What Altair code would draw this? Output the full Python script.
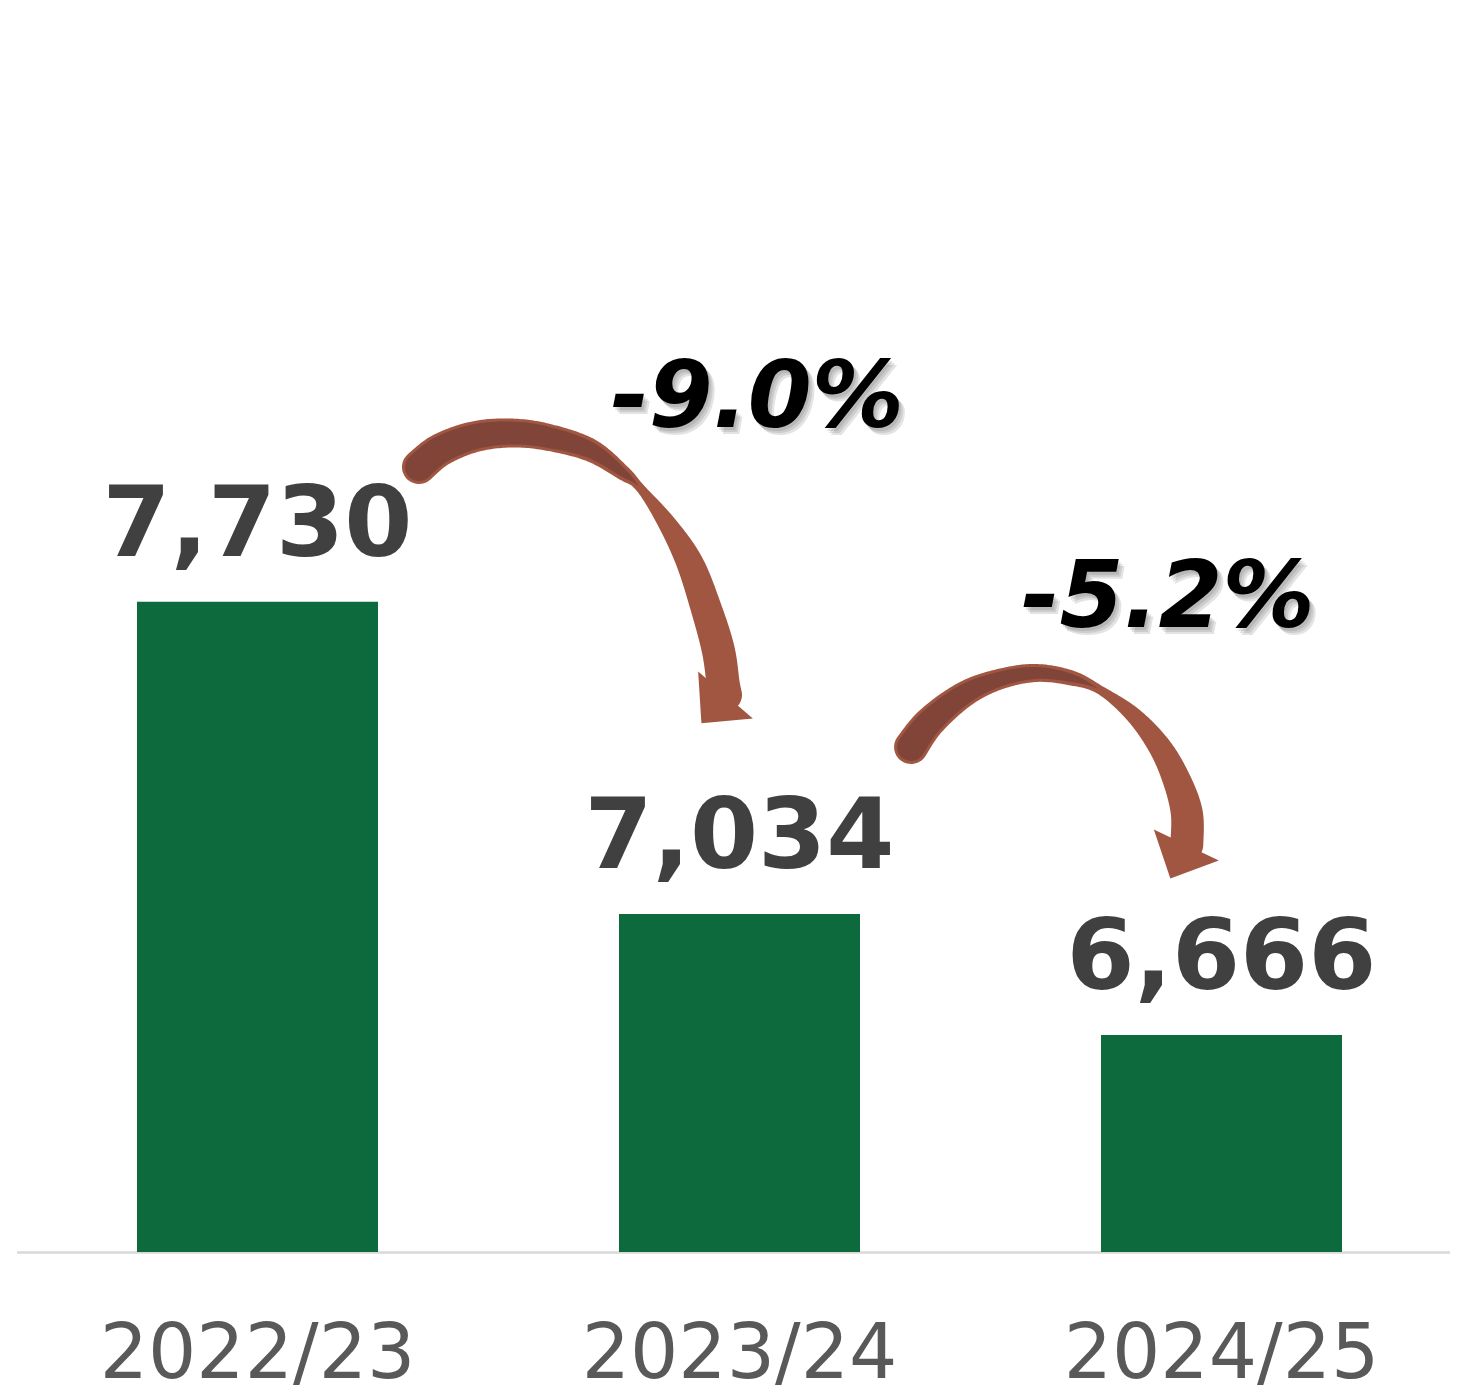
import altair as alt
import numpy as np
import pandas as pd

# ---------------- data ----------------
years = ["2022/23", "2023/24", "2024/25"]
values = [7730, 7034, 6666]
changes = ["-9.0%", "-5.2%"]

# ---------------- layout / style ----------------
W, H = 1433, 1244
PAD_INNER, PAD_OUTER, ALIGN = 0.5, 0.2365, 0.5285
Y_DOMAIN = [5661, 8604]
Y_EXP = 5.1

BAR_COLOR = "#0d6a3d"
VALUE_COLOR = "#404040"
AXIS_COLOR = "#595959"
ARROW_LIGHT = "#a15642"
ARROW_DARK = "#804538"
FONT = "DejaVu Sans"

# annotation frame: x in bar-index units (0 = first bar centre), y = rise above baseline (px)
step = W / (len(years) - PAD_INNER + 2 * PAD_OUTER)
offset = (W - step * (len(years) - PAD_INNER)) * ALIGN
center0 = offset + step * (1 - PAD_INNER) / 2
IDX_DOMAIN = [-center0 / step, (W - center0) / step]

# arrow centre-line waypoints: (index, rise, width, inner dark width)
ARROW_PATHS = [
    [(0.335, 785, 34, 28), (0.379, 802, 33, 27), (0.448, 815, 31, 25), (0.524, 819, 29, 23),
     (0.600, 815, 27, 21), (0.690, 802, 23, 16), (0.759, 779, 15, 8), (0.794, 764, 9, 0),
     (0.849, 729, 18, 0), (0.897, 689, 27, 0), (0.932, 642, 31, 0), (0.956, 602, 33, 0),
     (0.966, 569, 33, 0), (0.971, 557, 33, 0)],
    [(1.356, 505, 34, 28), (1.395, 530, 31, 25), (1.464, 557, 26, 20), (1.534, 572, 21, 15),
     (1.613, 579, 18, 12), (1.689, 574, 15, 8), (1.748, 562, 9, 0), (1.817, 537, 16, 0),
     (1.872, 505, 23, 0), (1.907, 472, 28, 0), (1.928, 439, 32, 0), (1.928, 407, 33, 0)],
]
ARROW_HEADS = [(0.971, 557, 40.5), (1.927, 407, 25.5)]
CHANGE_POS = [(1.037, 825), (1.889, 625)]
SHADOW_STEPS = [(2, 3), (4, 5), (6, 7)]


def spline(points, n=16):
    P = np.asarray(points, float)
    P = np.vstack([P[0], P, P[-1]])
    out = []
    for i in range(1, len(P) - 2):
        p0, p1, p2, p3 = P[i - 1], P[i], P[i + 1], P[i + 2]
        for s in np.linspace(0, 1, n, endpoint=False):
            out.append(0.5 * (2 * p1 + (-p0 + p2) * s
                              + (2 * p0 - 5 * p1 + 4 * p2 - p3) * s * s
                              + (-p0 + 3 * p1 - 3 * p2 + p3) * s ** 3))
    out.append(P[-2])
    return np.array(out)


rows = []
for a, path in enumerate(ARROW_PATHS):
    pts = spline(path)
    for t, (x, r, wl, wd) in enumerate(pts):
        rows.append({"arrow": a, "t": t, "x": x, "rise": r, "wl": max(wl, 0), "wd": max(wd, 0)})
trail_df = pd.DataFrame(rows)
dark_df = trail_df[trail_df["wd"] > 0.4]

heads_df = pd.DataFrame({"x": [h[0] for h in ARROW_HEADS],
                         "rise": [h[1] for h in ARROW_HEADS],
                         "angle": [h[2] for h in ARROW_HEADS]})
change_df = pd.DataFrame({"x": [p[0] for p in CHANGE_POS],
                          "rise": [p[1] for p in CHANGE_POS],
                          "label": changes})

df = pd.DataFrame({"year": years, "value": values})

# ---------------- main chart ----------------
x_scale = alt.Scale(domain=years, paddingInner=PAD_INNER, paddingOuter=PAD_OUTER, align=ALIGN)
y_scale = alt.Scale(type="pow", exponent=Y_EXP, domain=Y_DOMAIN, nice=False, zero=False)
x_axis = alt.Axis(labelAngle=0, ticks=False, tickSize=0, grid=False,
                  domainColor="#d9d9d9", domainWidth=2.5,
                  labelFont=FONT, labelFontSize=76, labelColor=AXIS_COLOR,
                  labelPadding=65, labelLimit=1000, labelOverlap=False)

bars = alt.Chart(df).mark_bar(color=BAR_COLOR).encode(
    x=alt.X("year:N", scale=x_scale, sort=years, title=None, axis=x_axis),
    y=alt.Y("value:Q", scale=y_scale, axis=None),
    y2=alt.datum(Y_DOMAIN[0]),
)

value_labels = alt.Chart(df).mark_text(
    font=FONT, fontSize=98, fontWeight="bold", color=VALUE_COLOR,
    baseline="alphabetic", align="center", dy=-46,
).encode(
    x=alt.X("year:N", scale=x_scale, sort=years, title=None, axis=x_axis),
    y=alt.Y("value:Q", scale=y_scale, axis=None),
    text=alt.Text("value:Q", format=","),
)

main = alt.layer(bars, value_labels)

# ---------------- annotations ----------------
ax = alt.X("x:Q", scale=alt.Scale(domain=IDX_DOMAIN, nice=False, zero=False), axis=None)
ay = alt.Y("rise:Q", scale=alt.Scale(domain=[0, H], nice=False, zero=False), axis=None)

trail_light = alt.Chart(trail_df).mark_trail(color=ARROW_LIGHT).encode(
    x=ax, y=ay, size=alt.Size("wl:Q", scale=None, legend=None),
    detail="arrow:N", order="t:Q",
)
trail_dark = alt.Chart(dark_df).mark_trail(color=ARROW_DARK).encode(
    x=ax, y=ay, size=alt.Size("wd:Q", scale=None, legend=None),
    detail="arrow:N", order="t:Q",
)
heads = alt.Chart(heads_df).mark_point(
    shape="M -1 0 L 1 0 L 0 1.03 Z", filled=True, size=5184,
    color=ARROW_LIGHT, opacity=1, strokeWidth=0,
).encode(x=ax, y=ay, angle=alt.Angle("angle:Q", scale=None))

shadows = [
    alt.Chart(change_df).mark_text(
        font=FONT, fontSize=92, fontWeight="bold", fontStyle="italic",
        color="#444444", opacity=0.14, baseline="alphabetic", align="center", dx=sx, dy=sy,
    ).encode(x=ax, y=ay, text="label:N")
    for sx, sy in SHADOW_STEPS
]
change_text = alt.Chart(change_df).mark_text(
    font=FONT, fontSize=92, fontWeight="bold", fontStyle="italic",
    color="#000000", baseline="alphabetic", align="center",
).encode(x=ax, y=ay, text="label:N")

annot = alt.layer(trail_light, trail_dark, heads, *shadows, change_text)

chart = alt.layer(main, annot).resolve_scale(
    x="independent", y="independent"
).properties(
    width=W, height=H,
    padding={"left": 8.5, "top": 0, "right": 0, "bottom": 136},
    autosize=alt.AutoSizeParams(type="none"),
).configure_view(stroke=None)

chart.save("out.html", embed_options={"renderer": "svg", "actions": False})
